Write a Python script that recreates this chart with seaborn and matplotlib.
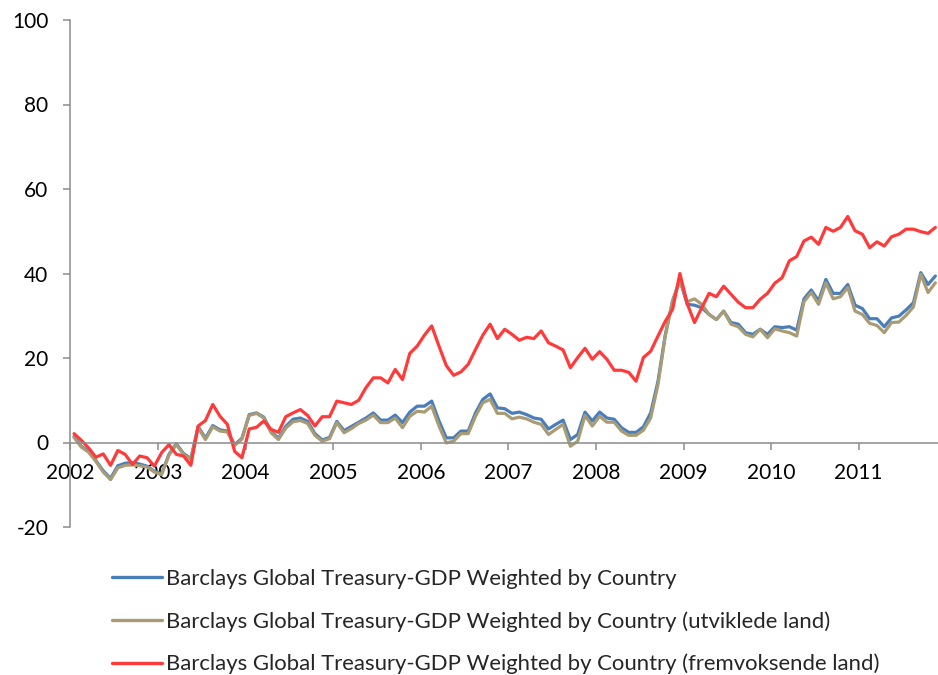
import numpy as np
import pandas as pd
import matplotlib
matplotlib.use("Agg")
import matplotlib.pyplot as plt
import seaborn as sns

# ---------------- data (monthly, Jan 2002 - Nov 2011) ----------------
series_names = [
    "Barclays Global Treasury-GDP Weighted by Country",
    "Barclays Global Treasury-GDP Weighted by Country (utviklede land)",
    "Barclays Global Treasury-GDP Weighted by Country (fremvoksende land)",
]

global_total = [
    1.4, -0.9, -2.1, -4.3, -6.7, -8.5, -5.5, -4.9, -4.8, -5.1, -5.6, -6.8,
    -7.4, -2.8, -0.3, -2.6, -3.8, 3.8, 1.0, 4.0, 3.0, 2.7, -0.5, 1.0,
    6.6, 7.0, 6.0, 2.6, 1.0, 3.8, 5.5, 5.8, 5.0, 2.1, 0.6, 1.2,
    5.0, 2.8, 3.8, 4.8, 5.8, 7.0, 5.3, 5.3, 6.5, 4.7, 7.2, 8.6,
    8.6, 9.8, 5.1, 1.1, 1.1, 2.7, 2.7, 7.0, 10.2, 11.5, 8.2, 8.0,
    6.9, 7.2, 6.6, 5.8, 5.5, 3.2, 4.3, 5.3, 0.7, 1.9, 7.2, 5.1,
    7.2, 5.8, 5.5, 3.5, 2.4, 2.4, 3.7, 7.0, 14.5, 25.5, 33.5, 38.5,
    32.7, 32.5, 31.9, 30.3, 29.1, 31.1, 28.4, 28.0, 26.0, 25.6, 26.8, 25.6,
    27.4, 27.2, 27.4, 26.6, 34.0, 36.1, 33.5, 38.6, 35.3, 35.3, 37.4, 32.5,
    31.7, 29.3, 29.3, 27.4, 29.5, 29.9, 31.4, 33.1, 40.2, 37.4, 39.4,
]

developed = [
    1.2, -1.1, -2.3, -4.5, -7.0, -8.8, -6.0, -5.4, -5.3, -5.5, -5.8, -7.0,
    -7.6, -3.0, -0.5, -2.8, -4.0, 3.5, 0.7, 3.7, 2.7, 2.5, -0.7, 0.8,
    6.4, 6.9, 5.8, 2.3, 0.7, 3.4, 4.9, 5.2, 4.5, 1.7, 0.3, 0.9,
    4.7, 2.3, 3.3, 4.5, 5.3, 6.5, 4.7, 4.7, 5.8, 3.5, 6.2, 7.4,
    7.2, 8.6, 3.9, -0.1, 0.3, 2.1, 2.1, 6.2, 9.4, 10.2, 6.9, 6.9,
    5.6, 6.0, 5.6, 4.8, 4.3, 1.9, 3.1, 4.3, -0.9, 0.3, 6.4, 3.9,
    6.2, 4.8, 4.8, 2.7, 1.7, 1.7, 2.9, 5.8, 13.7, 25.2, 33.5, 38.3,
    33.3, 34.0, 32.7, 30.3, 29.1, 31.1, 28.0, 27.4, 25.6, 25.0, 26.8, 24.8,
    26.9, 26.4, 26.0, 25.2, 33.3, 35.5, 32.7, 37.8, 34.0, 34.5, 36.7, 31.1,
    30.3, 28.2, 27.7, 26.0, 28.4, 28.5, 30.1, 32.1, 39.8, 35.5, 37.8,
]

emerging = [
    2.1, 0.5, -1.3, -3.5, -2.7, -5.4, -1.9, -2.8, -5.2, -3.2, -3.6, -5.6,
    -2.4, -0.5, -2.8, -3.2, -5.4, 3.9, 5.2, 9.0, 6.2, 4.3, -2.1, -3.6,
    3.2, 3.6, 5.1, 3.1, 2.4, 6.1, 7.0, 7.8, 6.4, 3.9, 6.1, 6.1,
    9.8, 9.4, 9.0, 10.0, 13.0, 15.3, 15.3, 14.1, 17.3, 14.9, 21.1, 22.8,
    25.4, 27.6, 22.8, 18.2, 15.9, 16.7, 18.5, 22.0, 25.4, 28.0, 24.6, 26.8,
    25.6, 24.2, 24.9, 24.6, 26.4, 23.6, 22.8, 21.9, 17.7, 20.1, 22.3, 19.7,
    21.5, 19.7, 17.1, 17.1, 16.6, 14.5, 20.1, 21.6, 25.2, 28.7, 31.5, 40.0,
    32.9, 28.4, 31.9, 35.3, 34.5, 37.0, 35.1, 33.2, 31.9, 31.9, 33.9, 35.3,
    37.7, 39.0, 43.0, 44.0, 47.7, 48.6, 46.9, 50.9, 50.0, 50.9, 53.5, 50.1,
    49.3, 46.1, 47.5, 46.5, 48.7, 49.3, 50.5, 50.5, 49.9, 49.5, 50.9,
]

year_ticks = list(range(2002, 2012))
y_ticks = [-20, 0, 20, 40, 60, 80, 100]

n = len(emerging)
# mid-month positions in decimal years
x_years = 2002 + (np.arange(n) + 0.5) / 12.0

df = pd.concat([
    pd.DataFrame({"year": x_years, "value": vals, "series": name})
    for name, vals in zip(series_names, [global_total, developed, emerging])
], ignore_index=True)

colors = ["#4A7EBB", "#A99C74", "#FF3A3A"]

# ---------------- styling ----------------
sns.set_theme(style="white")
plt.rcParams["font.family"] = ["Lato", "DejaVu Sans"]
plt.rcParams["axes.unicode_minus"] = False

W, H = 938, 675
fig = plt.figure(figsize=(W / 100, H / 100), dpi=100)
x0, x1 = 70.4, 938
y_top, y_bot = 20, 527
ax = fig.add_axes([x0 / W, 1 - y_bot / H, (x1 - x0) / W, (y_bot - y_top) / H])

sns.lineplot(data=df, x="year", y="value", hue="series", hue_order=series_names,
             palette=colors, linewidth=2.3, ax=ax, legend=False)

grey = "#8C8C8C"
ax.set_ylim(-20, 100)
ax.set_yticks(y_ticks)
ax.set_xlim(2002, 2002 + (x1 - x0) / 87.59)
ax.set_xticks(year_ticks)
ax.set_xticklabels([str(y) for y in year_ticks])
ax.set_xlabel("")
ax.set_ylabel("")

for s in ["top", "right"]:
    ax.spines[s].set_visible(False)
ax.spines["bottom"].set_position(("data", 0))
for s in ["left", "bottom"]:
    ax.spines[s].set_color(grey)
    ax.spines[s].set_linewidth(1.1)

ax.tick_params(axis="both", which="both", direction="out", length=5, width=1.1,
               color=grey, labelsize=15, labelcolor="black",
               bottom=True, left=True)
ax.tick_params(axis="y", pad=11)
ax.tick_params(axis="x", pad=10)
ax.grid(False)

# legend below
handles = [plt.Line2D([0], [0], color=c, lw=2.4) for c in colors]
fig.legend(handles, series_names, loc="upper left",
           bbox_to_anchor=(112 / W, 1 - 569 / H), frameon=False,
           fontsize=15.9, handlelength=2.28, handletextpad=0.18,
           labelspacing=1.0, borderpad=0, borderaxespad=0)

fig.savefig("out.png", dpi=100)
